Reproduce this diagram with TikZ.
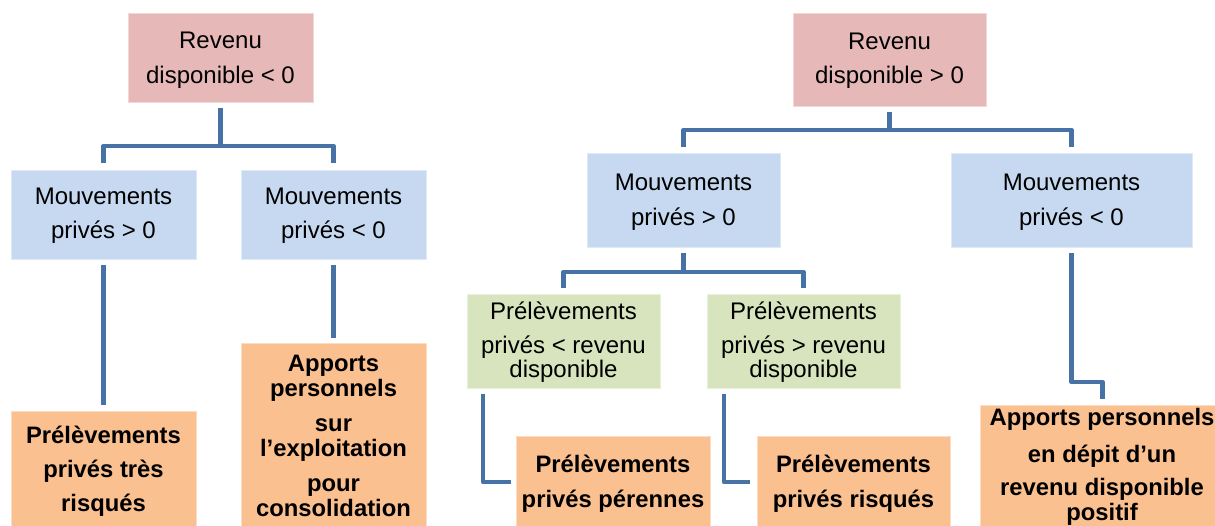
\documentclass[tikz,border=0pt]{standalone}
\usepackage{fontspec}
\setmainfont{Liberation Sans}
\definecolor{cpink}{RGB}{230,184,183}
\definecolor{cblue}{RGB}{198,217,240}
\definecolor{cgreen}{RGB}{215,228,189}
\definecolor{corange}{RGB}{250,192,144}
\definecolor{cline}{RGB}{70,114,166}
\begin{document}
\begin{tikzpicture}[x=1pt,y=-1pt,
  box/.style={rectangle,inner sep=0pt,outer sep=0pt,fill=#1,draw=#1!55!white,line width=0.8pt},
  conn/.style={draw=cline,line width=4.8pt,line join=round},
  txt/.style={align=center,inner sep=0pt,anchor=north},
  reg/.style={txt,font={\fontsize{24}{#1}\selectfont\lineskiplimit=-100pt\relax}},
  bld/.style={txt,font={\fontsize{23.8}{#1}\selectfont\bfseries\lineskiplimit=-100pt\relax}}]
\fill[white] (0,0) rectangle (1215,526);
\useasboundingbox (0,0) rectangle (1215,526);
\clip (0,0) rectangle (1215,526);

% ---------- left tree boxes
\node[box=cpink,minimum width=185pt,minimum height=89pt] (L0) at (220.5,57.5) {};
\node[box=cblue,minimum width=185pt,minimum height=89pt] (L1) at (103.5,214.5) {};
\node[box=cblue,minimum width=185pt,minimum height=89pt] (L2) at (333.5,214.5) {};
\node[box=corange,minimum width=185pt,minimum height=117pt] (O1) at (103.5,469.5) {};
\node[box=corange,minimum width=185pt,minimum height=185pt] (O2) at (333.5,435.5) {};

% ---------- right tree boxes
\node[box=cpink,minimum width=193pt,minimum height=93pt] (R0) at (889.5,59.5) {};
\node[box=cblue,minimum width=193pt,minimum height=94pt] (R1) at (683.5,200) {};
\node[box=cblue,minimum width=241pt,minimum height=94pt] (R2) at (1071.5,200) {};
\node[box=cgreen,minimum width=193pt,minimum height=94pt] (G1) at (563.5,341) {};
\node[box=cgreen,minimum width=193pt,minimum height=94pt] (G2) at (803.5,341) {};
\node[box=corange,minimum width=194pt,minimum height=92pt] (O3) at (613,482) {};
\node[box=corange,minimum width=193pt,minimum height=92pt] (O4) at (853.5,482) {};
\node[box=corange,minimum width=245pt,minimum height=123pt] (O5) at (1102.5,466.5) {};

% ---------- texts
\node[reg=35pt] (tL0) at (220.5,26) {\rule{0pt}{22pt}Revenu\\disponible < 0};
\node[reg=34pt] (tL1) at (103.5,182) {\rule{0pt}{22pt}Mouvements\\privés > 0};
\node[reg=34pt] (tL2) at (333.5,182) {\rule{0pt}{22pt}Mouvements\\privés < 0};
\node[bld=34pt] (tO1) at (103.5,421) {\rule{0pt}{22pt}Prélèvements\\privés très\\risqués};
\node[bld=25pt] (tO2) at (333.5,349) {\rule{0pt}{22pt}Apports\\personnels\\[10pt]sur\\l’exploitation\\[10pt]pour\\consolidation};

\node[reg=34pt] (tR0) at (889.5,27) {\rule{0pt}{22pt}Revenu\\disponible > 0};
\node[reg=35pt] (tR1) at (683.5,168) {\rule{0pt}{22pt}Mouvements\\privés > 0};
\node[reg=35pt] (tR2) at (1071.5,168) {\rule{0pt}{22pt}Mouvements\\privés < 0};
\node[reg=24pt] (tG1) at (563.5,297) {\rule{0pt}{22pt}Prélèvements\\[10pt]privés < revenu\\disponible};
\node[reg=24pt] (tG2) at (803.5,297) {\rule{0pt}{22pt}Prélèvements\\[10pt]privés > revenu\\disponible};
\node[bld=35pt] (tO3) at (613,450) {\rule{0pt}{22pt}Prélèvements\\privés pérennes};
\node[bld=35pt] (tO4) at (853.5,450) {\rule{0pt}{22pt}Prélèvements\\privés risqués};
\node[bld=25pt] (tO5) at (1102,403) {\rule{0pt}{22pt}Apports personnels\\[12pt]en dépit d’un\\[8pt]revenu disponible\\positif};

% ---------- connectors, left
\coordinate (hL) at (0,146);
\draw[conn] ([yshift=-6pt]L0.south) -- (L0.south |- hL);
\draw[conn] ([yshift=7pt]L1.north) -- (L1.north |- hL) -- (L2.north |- hL) -- ([yshift=7pt]L2.north);
\draw[conn] ([yshift=-6pt]L1.south) -- ([yshift=6pt]O1.north);
\draw[conn] ([yshift=-6pt]L2.south) -- ([yshift=5pt]O2.north);

% ---------- connectors, right
\coordinate (hR) at (0,130);
\draw[conn] ([yshift=-6pt]R0.south) -- (R0.south |- hR);
\draw[conn] ([yshift=6pt]R1.north) -- (R1.north |- hR) -- (R2.north |- hR) -- ([yshift=6pt]R2.north);
\coordinate (hG) at (0,272);
\draw[conn] ([yshift=-6pt]R1.south) -- (R1.south |- hG);
\draw[conn] ([yshift=6pt]G1.north) -- (G1.north |- hG) -- (G2.north |- hG) -- ([yshift=6pt]G2.north);
\draw[conn] ([xshift=16pt,yshift=-6pt]G1.south west) |- ([xshift=-5pt]O3.west);
\draw[conn] ([xshift=17pt,yshift=-6pt]G2.south west) |- ([xshift=-7pt]O4.west);
\coordinate (hO) at (0,382);
\draw[conn] ([yshift=-6pt]R2.south) -- (R2.south |- hO) -| ([yshift=6pt]O5.north);
\end{tikzpicture}
\end{document}
